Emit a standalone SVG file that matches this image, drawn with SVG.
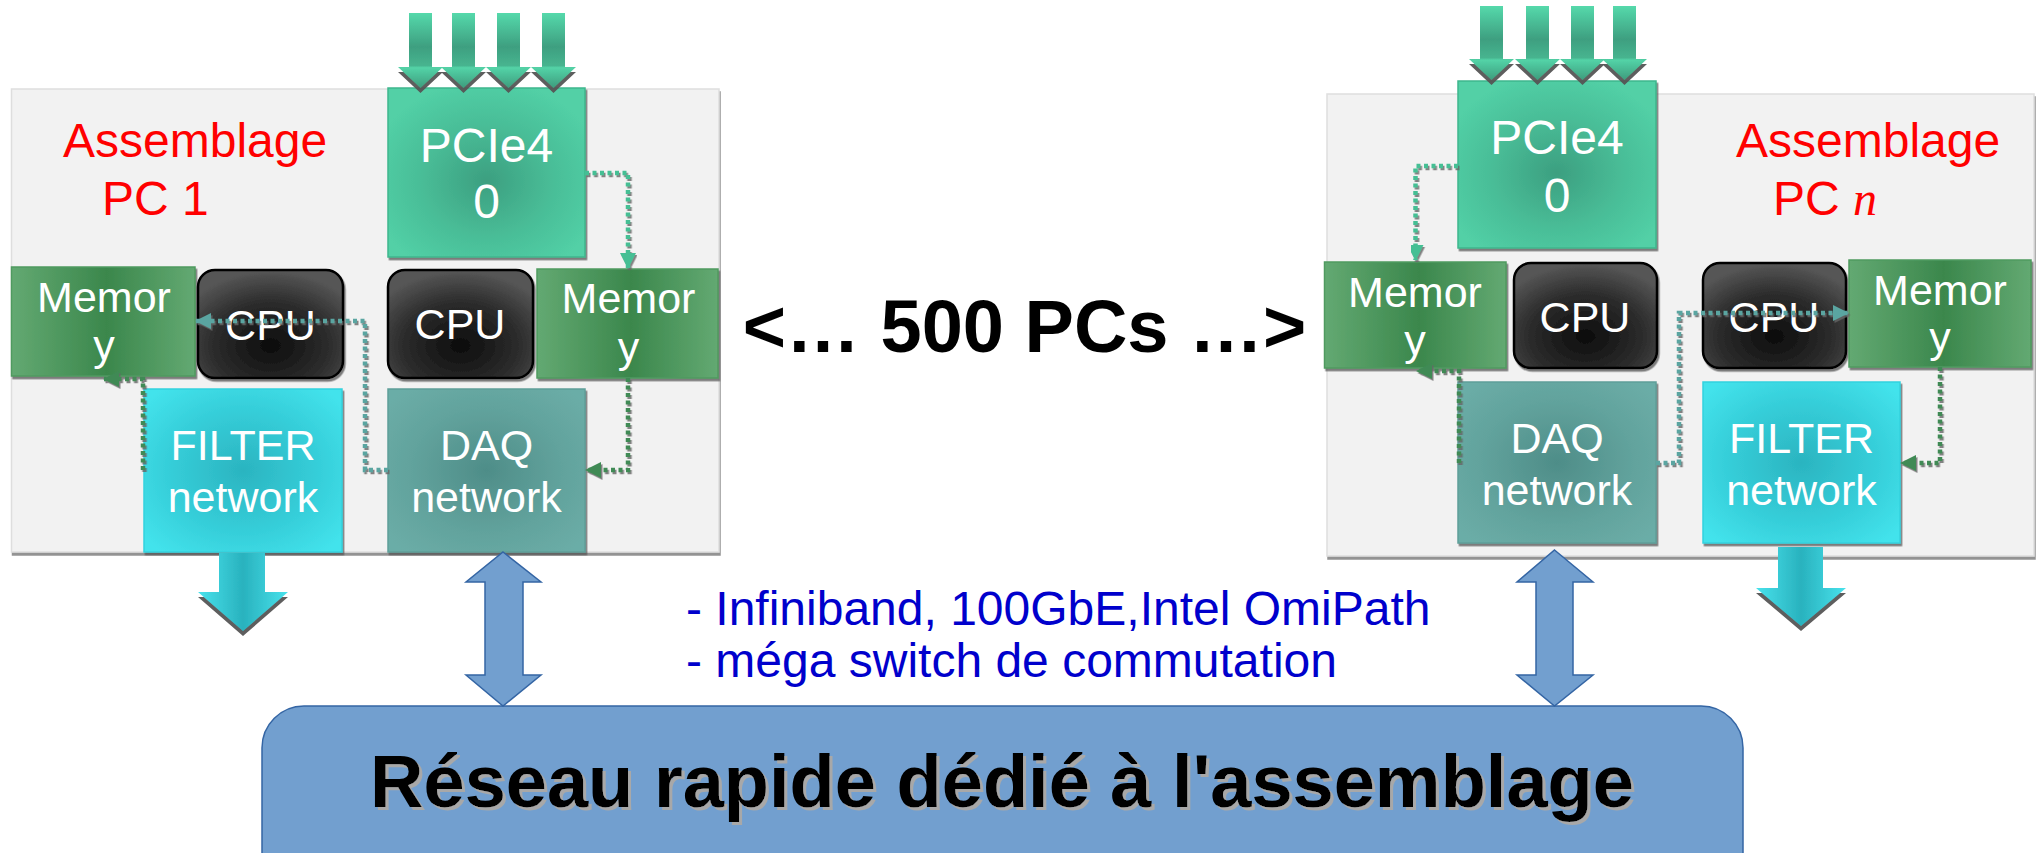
<svg xmlns="http://www.w3.org/2000/svg" width="2039" height="853" viewBox="0 0 2039 853">
  <defs>
    <style>
      .txt { font-family: "Liberation Sans", Arial, sans-serif; }
      .panel { fill: #f2f2f2; stroke: #dedede; stroke-width: 1.5; filter: url(#panelShadow); }
      .pcie { fill: url(#gPcie); stroke: #3fb68d; stroke-width: 1.5; filter: url(#nodeShadow); }
      .mem { fill: url(#gMem); stroke: #4f9a60; stroke-width: 1.5; filter: url(#nodeShadow); }
      .cpu { fill: url(#gCpu); stroke: #000; stroke-width: 2.5; filter: url(#nodeShadow); }
      .filt { fill: url(#gFilt); stroke: #33d2de; stroke-width: 1.5; filter: url(#nodeShadow); }
      .daq { fill: url(#gDaq); stroke: #5f9f99; stroke-width: 1.5; filter: url(#nodeShadow); }
      .lbl { fill: #fff; font-size: 43px; text-anchor: middle; }
      .lblBig { fill: #fff; font-size: 48px; text-anchor: middle; }
      .red { fill: #ff0000; font-size: 48px; }
      .blue { fill: #0000cc; font-size: 48px; }
      .link { fill: none; stroke-width: 4.5; stroke-dasharray: 4 3.5; filter: url(#dotShadow); }
      .teal { stroke: #5aa5a1; }
      .mint { stroke: #44bf94; }
      .green { stroke: #3f8a55; }
      .inArrow { fill: url(#gIn); filter: url(#headShadow); }
      .outArrow { fill: url(#gOut); filter: url(#headShadow); }
      .bus { fill: #729fcf; stroke: #3465a4; stroke-width: 1.5; }
    </style>

    <!-- node fills -->
    <radialGradient id="gPcie" cx="0.5" cy="0.55" r="0.6">
      <stop offset="0" stop-color="#3c9f80"/>
      <stop offset="0.55" stop-color="#49bd97"/>
      <stop offset="1" stop-color="#52d0a6"/>
    </radialGradient>
    <linearGradient id="gMem" x1="0" y1="0" x2="1" y2="0">
      <stop offset="0" stop-color="#63a972"/>
      <stop offset="0.52" stop-color="#3b874c"/>
      <stop offset="1" stop-color="#63a972"/>
    </linearGradient>
    <radialGradient id="gCpu" cx="0.5" cy="0.7" r="0.7">
      <stop offset="0" stop-color="#0c0c0c"/>
      <stop offset="0.6" stop-color="#2e2e2e"/>
      <stop offset="1" stop-color="#575757"/>
    </radialGradient>
    <radialGradient id="gFilt" cx="0.5" cy="0.5" r="0.65">
      <stop offset="0" stop-color="#2bb4c0"/>
      <stop offset="0.6" stop-color="#36cfda"/>
      <stop offset="1" stop-color="#43e3ec"/>
    </radialGradient>
    <radialGradient id="gDaq" cx="0.5" cy="0.5" r="0.65">
      <stop offset="0" stop-color="#4e8d88"/>
      <stop offset="0.6" stop-color="#62a39d"/>
      <stop offset="1" stop-color="#6bada7"/>
    </radialGradient>

    <!-- arrow fills -->
    <linearGradient id="gIn" x1="0" y1="0" x2="0" y2="1">
      <stop offset="0" stop-color="#55d9ab"/>
      <stop offset="0.45" stop-color="#3e9f80"/>
      <stop offset="0.7" stop-color="#47b48f"/>
      <stop offset="0.73" stop-color="#53d3a7"/>
      <stop offset="1" stop-color="#3e9c7d"/>
    </linearGradient>
    <linearGradient id="gOut" x1="0" y1="0" x2="1" y2="0">
      <stop offset="0" stop-color="#48e2ec"/>
      <stop offset="0.5" stop-color="#29b2be"/>
      <stop offset="1" stop-color="#48e2ec"/>
    </linearGradient>

    <!-- shadows -->
    <filter id="nodeShadow" x="-5%" y="-5%" width="115%" height="115%">
      <feDropShadow dx="1.5" dy="2.5" stdDeviation="0.6" flood-color="#555" flood-opacity="0.75"/>
    </filter>
    <filter id="panelShadow" x="-2%" y="-2%" width="104%" height="106%">
      <feDropShadow dx="1" dy="3" stdDeviation="0.5" flood-color="#777" flood-opacity="0.8"/>
    </filter>
    <filter id="dotShadow" x="-10%" y="-10%" width="130%" height="130%">
      <feDropShadow dx="1.5" dy="2" stdDeviation="0.3" flood-color="#666" flood-opacity="0.8"/>
    </filter>
    <filter id="headShadow" x="-10%" y="-10%" width="120%" height="125%">
      <feDropShadow dx="0" dy="5" stdDeviation="0.4" flood-color="#555" flood-opacity="0.95"/>
    </filter>
    <filter id="textShadow" x="-5%" y="-10%" width="110%" height="130%">
      <feDropShadow dx="3" dy="3" stdDeviation="0.5" flood-color="#a8a8a8" flood-opacity="1"/>
    </filter>

    <!-- arrowheads for the dotted links -->
    <marker id="mTeal" markerWidth="16" markerHeight="16" refX="15" refY="8" orient="auto" markerUnits="userSpaceOnUse">
      <path d="M0,0 L16,8 L0,16 Z" fill="#5aa5a1"/>
    </marker>
    <marker id="mMint" markerWidth="16" markerHeight="16" refX="15" refY="8" orient="auto" markerUnits="userSpaceOnUse">
      <path d="M0,0 L16,8 L0,16 Z" fill="#44bf94"/>
    </marker>
    <marker id="mGreen" markerWidth="16" markerHeight="16" refX="15" refY="8" orient="auto" markerUnits="userSpaceOnUse">
      <path d="M0,0 L16,8 L0,16 Z" fill="#3f8a55"/>
    </marker>
  </defs>

  <rect width="2039" height="853" fill="#ffffff"/>

  <!-- ===== PC 1 ===== -->
  <g id="pc1-panel">
    <rect class="panel" x="11.5" y="89" width="707.5" height="463"/>
    <text class="txt red" x="63" y="157">Assemblage</text>
    <text class="txt red" x="102" y="215">PC 1</text>
  </g>
  <g id="pc1-pcie">
    <rect class="pcie" x="388" y="88" width="197" height="169"/>
    <text class="txt lblBig" x="486.5" y="162">PCIe4</text>
    <text class="txt lblBig" x="486.5" y="218">0</text>
  </g>
  <g id="pc1-mem-left">
    <rect class="mem" x="11.5" y="267" width="183.5" height="109"/>
    <text class="txt lbl" x="104" y="312">Memor</text>
    <text class="txt lbl" x="104" y="360">y</text>
  </g>
  <g id="pc1-cpu-left">
    <rect class="cpu" x="198" y="270" width="145" height="108" rx="17"/>
    <text class="txt lbl" x="270.5" y="340">CPU</text>
  </g>
  <g id="pc1-cpu-right">
    <rect class="cpu" x="388" y="270" width="145" height="108" rx="17"/>
    <text class="txt lbl" x="460" y="339">CPU</text>
  </g>
  <g id="pc1-mem-right">
    <rect class="mem" x="537" y="269" width="181" height="109"/>
    <text class="txt lbl" x="628.5" y="313">Memor</text>
    <text class="txt lbl" x="628.5" y="362">y</text>
  </g>
  <g id="pc1-filter">
    <rect class="filt" x="144" y="389" width="198" height="163"/>
    <text class="txt lbl" x="243" y="460">FILTER</text>
    <text class="txt lbl" x="243" y="512">network</text>
  </g>
  <g id="pc1-daq">
    <rect class="daq" x="388" y="389" width="197" height="163"/>
    <text class="txt lbl" x="486.5" y="460">DAQ</text>
    <text class="txt lbl" x="486.5" y="512">network</text>
  </g>

  <!-- ===== PC n ===== -->
  <g id="pcn-panel">
    <rect class="panel" x="1327" y="94" width="707" height="462"/>
    <text class="txt red" x="1736" y="157">Assemblage</text>
    <text class="txt red" x="1773" y="215">PC <tspan font-family="Liberation Serif, serif" font-style="italic">n</tspan></text>
  </g>
  <g id="pcn-pcie">
    <rect class="pcie" x="1458" y="81" width="198" height="167"/>
    <text class="txt lblBig" x="1557" y="154">PCIe4</text>
    <text class="txt lblBig" x="1557" y="212">0</text>
  </g>
  <g id="pcn-mem-left">
    <rect class="mem" x="1324.5" y="262" width="181.5" height="106"/>
    <text class="txt lbl" x="1415" y="307">Memor</text>
    <text class="txt lbl" x="1415" y="355">y</text>
  </g>
  <g id="pcn-cpu-left">
    <rect class="cpu" x="1514" y="263" width="143" height="105" rx="17"/>
    <text class="txt lbl" x="1585" y="332">CPU</text>
  </g>
  <g id="pcn-cpu-right">
    <rect class="cpu" x="1703" y="263" width="143" height="105" rx="17"/>
    <text class="txt lbl" x="1774" y="332">CPU</text>
  </g>
  <g id="pcn-mem-right">
    <rect class="mem" x="1849" y="260" width="182" height="107"/>
    <text class="txt lbl" x="1940" y="305">Memor</text>
    <text class="txt lbl" x="1940" y="352">y</text>
  </g>
  <g id="pcn-daq">
    <rect class="daq" x="1458" y="382" width="198" height="161"/>
    <text class="txt lbl" x="1557" y="453">DAQ</text>
    <text class="txt lbl" x="1557" y="505">network</text>
  </g>
  <g id="pcn-filter">
    <rect class="filt" x="1703" y="382" width="197" height="161"/>
    <text class="txt lbl" x="1801.5" y="453">FILTER</text>
    <text class="txt lbl" x="1801.5" y="505">network</text>
  </g>

  <!-- ===== shared network ===== -->
  <g id="network">
    <rect class="bus" x="262" y="706" width="1481" height="190" rx="42"/>
    <text class="txt" x="1002" y="807" font-size="74" font-weight="bold" text-anchor="middle" fill="#000" filter="url(#textShadow)">Réseau rapide dédié à l'assemblage</text>
  </g>

  <g id="notes">
    <text class="txt blue" x="686" y="625">- Infiniband, 100GbE,Intel OmiPath</text>
    <text class="txt blue" x="686" y="677">- méga switch de commutation</text>
  </g>

  <g id="ellipsis">
    <text class="txt" x="1024.5" y="352" font-size="74" font-weight="bold" text-anchor="middle" fill="#000">&lt;… 500 PCs …&gt;</text>
  </g>

  <!-- ===== connectors ===== -->
  <g id="connectors">
    <!-- PC 1 dotted data paths -->
    <path class="link mint" d="M585,173 H628 V268" marker-end="url(#mMint)"/>
    <path class="link teal" d="M388,470 H365 V321 H196" marker-end="url(#mTeal)"/>
    <path class="link green" d="M628,378 V470 H586" marker-end="url(#mGreen)"/>
    <path class="link green" d="M143,470 V379 H104" marker-end="url(#mGreen)"/>

    <!-- PC n dotted data paths -->
    <path class="link mint" d="M1458,166 H1415.5 V260" marker-end="url(#mMint)"/>
    <path class="link teal" d="M1656,463 H1679 V313 H1848" marker-end="url(#mTeal)"/>
    <path class="link green" d="M1940,367 V463 H1901" marker-end="url(#mGreen)"/>
    <path class="link green" d="M1459,463 V371 H1417" marker-end="url(#mGreen)"/>

    <!-- detector inputs into PCIe cards -->
    <path class="inArrow" d="M409,13 H432 V67 H443 L420.5,88 L398,67 H409 Z"/>
    <path class="inArrow" d="M452,13 H475 V67 H486 L463.5,88 L441,67 H452 Z"/>
    <path class="inArrow" d="M497,13 H520 V67 H531 L508.5,88 L486,67 H497 Z"/>
    <path class="inArrow" d="M542,13 H565 V67 H576 L553.5,88 L531,67 H542 Z"/>

    <path class="inArrow" d="M1480,6 H1503 V59 H1514 L1491.5,80 L1469,59 H1480 Z"/>
    <path class="inArrow" d="M1526,6 H1549 V59 H1560 L1537.5,80 L1515,59 H1526 Z"/>
    <path class="inArrow" d="M1571,6 H1594 V59 H1605 L1582.5,80 L1560,59 H1571 Z"/>
    <path class="inArrow" d="M1613,6 H1636 V59 H1647 L1624.5,80 L1602,59 H1613 Z"/>

    <!-- filtered output -->
    <path class="outArrow" d="M219,553 H265 V592 H288 L243,631 L198,592 H219 Z"/>
    <path class="outArrow" d="M1778,547 H1823 V588 H1846 L1801,626 L1756,588 H1778 Z"/>

    <!-- DAQ links to the switching network -->
    <path class="bus" d="M503,552 L541,582 H523 V675 H541 L503,706 L466,675 H485 V582 H466 Z"/>
    <path class="bus" d="M1554.5,550 L1593,582 H1573 V675 H1593 L1554.5,706 L1517,675 H1536 V582 H1517 Z"/>
  </g>
</svg>
